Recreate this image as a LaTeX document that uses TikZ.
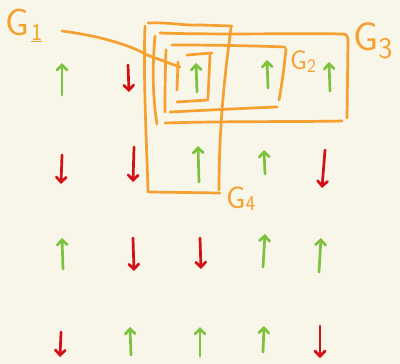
\documentclass[tikz,border=0pt]{standalone}
\usetikzlibrary{arrows.meta}
\definecolor{bg}{RGB}{248,245,233}
\definecolor{org}{RGB}{245,160,48}
\definecolor{grn}{RGB}{125,194,62}
\definecolor{rd}{RGB}{210,16,22}
\tikzset{
  pen/.style={line width=2.7pt, line cap=round, line join=round},
  box/.style={pen, draw=org},
  spin/.style={pen, -{Straight Barb[length=5pt,width=10pt,line cap=round]}},
  upspin/.style={spin, draw=grn},
  downspin/.style={spin, draw=rd},
  lab/.style={text=org, font=\sffamily\fontsize{#1}{#1}\selectfont, inner sep=0pt},
}
\begin{document}
\begin{tikzpicture}[x=1pt,y=-1pt]
\fill[bg] (0,0) rectangle (400,364);
\useasboundingbox (0,0) rectangle (400,364);
% row 1
\coordinate (a1s) at (62,95); \coordinate (a1e) at (62,63);
\coordinate (b1s) at (128,65); \coordinate (b1e) at (129,92);
\coordinate (c1s) at (197,92); \coordinate (c1e) at (196,63);
\coordinate (d1s) at (268,88); \coordinate (d1e) at (267,60);
\coordinate (e1s) at (330,91); \coordinate (e1e) at (329,62);
% row 2
\coordinate (a2s) at (62,155); \coordinate (a2e) at (61,184);
\coordinate (b2s) at (134,147); \coordinate (b2e) at (133,182);
\coordinate (c2s) at (199,182); \coordinate (c2e) at (198,146);
\coordinate (d2s) at (265,174); \coordinate (d2e) at (264,150);
\coordinate (e2s) at (325,150); \coordinate (e2e) at (322,188);
% row 3
\coordinate (a3s) at (63,269); \coordinate (a3e) at (62,238);
\coordinate (b3s) at (133,238); \coordinate (b3e) at (134,271);
\coordinate (c3s) at (200,238); \coordinate (c3e) at (201,269);
\coordinate (d3s) at (263,267); \coordinate (d3e) at (265,234);
\coordinate (e3s) at (319,272); \coordinate (e3e) at (321,238);
% row 4
\coordinate (a4s) at (61,332); \coordinate (a4e) at (60,357);
\coordinate (b4s) at (131,355); \coordinate (b4e) at (130,327);
\coordinate (c4s) at (200,356); \coordinate (c4e) at (200,327);
\coordinate (d4s) at (263,352); \coordinate (d4e) at (264,326);
\coordinate (e4s) at (320,326); \coordinate (e4e) at (320,358);
% spins
\draw[upspin] (a1s) -- (a1e);
\draw[downspin] (b1s) -- (b1e);
\draw[upspin] (c1s) -- (c1e);
\draw[upspin] (d1s) -- (d1e);
\draw[upspin] (e1s) -- (e1e);
\draw[downspin] (a2s) -- (a2e);
\draw[downspin] (b2s) -- (b2e);
\draw[upspin] (c2s) -- (c2e);
\draw[upspin] (d2s) -- (d2e);
\draw[downspin] (e2s) -- (e2e);
\draw[upspin] (a3s) -- (a3e);
\draw[downspin] (b3s) -- (b3e);
\draw[downspin] (c3s) -- (c3e);
\draw[upspin] (d3s) -- (d3e);
\draw[upspin] (e3s) -- (e3e);
\draw[downspin] (a4s) -- (a4e);
\draw[upspin] (b4s) -- (b4e);
\draw[upspin] (c4s) -- (c4e);
\draw[upspin] (d4s) -- (d4e);
\draw[downspin] (e4s) -- (e4e);
% G4 box
\draw[box] (148,23) .. controls (170,22) and (185,26) .. (200,25) -- (232,26);
\draw[box] (231,28) .. controls (224,80) and (219,130) .. (219,190);
\draw[box] (145,26) .. controls (143,80) and (147,150) .. (148,192);
\draw[box] (149,192) -- (220,193);
% G3 box
\draw[box] (155,36) .. controls (152,70) and (153,100) .. (157,124);
\draw[box] (160,33) .. controls (220,35) and (300,33) .. (343,34) .. controls (347,35) .. (348,40) -- (347,118);
\draw[box] (165,123) .. controls (230,121) and (300,122) .. (342,121);
% G2 box
\draw[box] (172,45) .. controls (220,45) and (260,46) .. (285,47);
\draw[box] (286,49) .. controls (284,70) and (281,90) .. (279,100);
\draw[box] (166,50) .. controls (165,75) and (165,95) .. (165,112);
\draw[box] (170,112) .. controls (210,110) and (250,108) .. (277,107);
% G1 box
\draw[box] (187,55) -- (212,53);
\draw[box] (210,55) -- (208,98);
\draw[box] (177,102) -- (208,100);
\draw[box] (178,62) -- (177,90);
% labels
\node[lab=38, anchor=base west] (g1) at (5,35) {G};
\node[lab=24, anchor=base west] (g1n) at (31,40) {\underline{1}};
\coordinate (g1line) at (62,31);
\coordinate (g1end) at (180,67);
\draw[box] (g1line) .. controls (100,36) and (130,45) .. (147,55) -- (g1end);
\node[lab=27, anchor=base west] (g2) at (290,70) {G\raisebox{-3pt}{\fontsize{19}{19}\selectfont 2}};
\node[lab=40, anchor=base west] (g3) at (353,50) {G\raisebox{-8pt}{\fontsize{30}{30}\selectfont 3}};
\node[lab=31, anchor=base west] (g4) at (226,208) {G\raisebox{-2pt}{\fontsize{21}{21}\selectfont 4}};
\end{tikzpicture}
\end{document}
